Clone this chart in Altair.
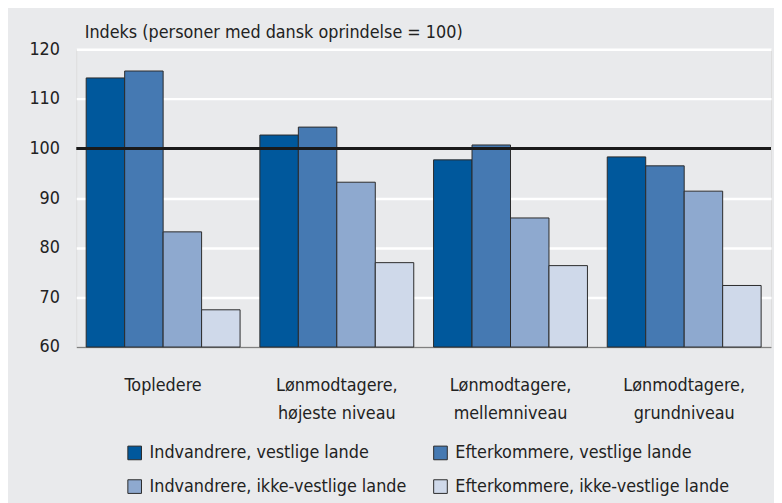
import altair as alt
import pandas as pd

groups = ["Topledere", "Lønmodtagere,|højeste niveau", "Lønmodtagere,|mellemniveau", "Lønmodtagere,|grundniveau"]
series = ["Indvandrere, vestlige lande", "Efterkommere, vestlige lande",
          "Indvandrere, ikke-vestlige lande", "Efterkommere, ikke-vestlige lande"]
# one array per series, one value per group
indv_vest = [114.2, 102.7, 97.7, 98.3]
efter_vest = [115.6, 104.3, 100.7, 96.5]
indv_ikke = [83.2, 93.2, 86.0, 91.4]
efter_ikke = [67.5, 77.0, 76.4, 72.4]
colors = ["#00589c", "#4579b2", "#8ea9cf", "#cfd9ea"]
yticks = [60, 70, 80, 90, 100, 110, 120]

per_series = [indv_vest, efter_vest, indv_ikke, efter_ikke]
rows = []
for si, s in enumerate(series):
    for gi, g in enumerate(groups):
        rows.append({"group": g, "series": s, "value": per_series[si][gi]})
df = pd.DataFrame(rows)

FONT = "DejaVu Sans Condensed"

bars = alt.Chart(df).mark_bar(stroke="#2a2a2a", strokeWidth=1).encode(
    x=alt.X("group:N", sort=groups, title=None,
            scale=alt.Scale(paddingInner=0.114, paddingOuter=0.057),
            axis=alt.Axis(labelExpr="split(datum.label, '|')", labelAngle=0,
                          labelFontSize=18, labelColor="#222", labelPadding=30,
                          labelLineHeight=28, ticks=False, domain=True,
                          domainColor="#808080", domainWidth=1.5, grid=False)),
    xOffset=alt.XOffset("series:N", sort=series, scale=alt.Scale(paddingInner=0, paddingOuter=0)),
    y=alt.Y("value:Q", scale=alt.Scale(domain=[60, 120], zero=False, nice=False),
            title="Indeks (personer med dansk oprindelse = 100)",
            axis=alt.Axis(values=yticks, labelFontSize=18, labelColor="#222",
                          labelPadding=17, ticks=False, domain=False,
                          grid=True, gridColor="white", gridWidth=2.5,
                          titleAngle=0, titleAlign="left", titleBaseline="alphabetic",
                          titleX=8, titleY=-12, titleFontSize=18,
                          titleFontWeight="normal", titleColor="#222")),
    y2=alt.datum(60),
    color=alt.Color("series:N", sort=series,
                    scale=alt.Scale(domain=series, range=colors),
                    legend=alt.Legend(title=None, orient="none", legendX=50, legendY=399,
                                      direction="horizontal",
                                      columns=2, symbolType="square", symbolSize=190,
                                      symbolStrokeColor="#2a2a2a", symbolStrokeWidth=1,
                                      labelFontSize=18, labelColor="#222",
                                      rowPadding=16, columnPadding=25, labelOffset=6,
                                      labelLimit=400)),
)

rule = alt.Chart(pd.DataFrame({"y": [100]})).mark_rule(color="#1a1a1a", strokeWidth=3).encode(
    y=alt.Y("y:Q")
)

chart = alt.layer(bars, rule).properties(
    width=702, height=301,
    background="#e9eaec",
    padding={"left": 69, "top": 39, "right": 3, "bottom": 155},
    autosize=alt.AutoSizeParams(type="none"),
).configure_view(fill="#dfe0e2", stroke=None).configure(font=FONT)

chart.save("out.html", embed_options={"renderer": "svg", "actions": False})
